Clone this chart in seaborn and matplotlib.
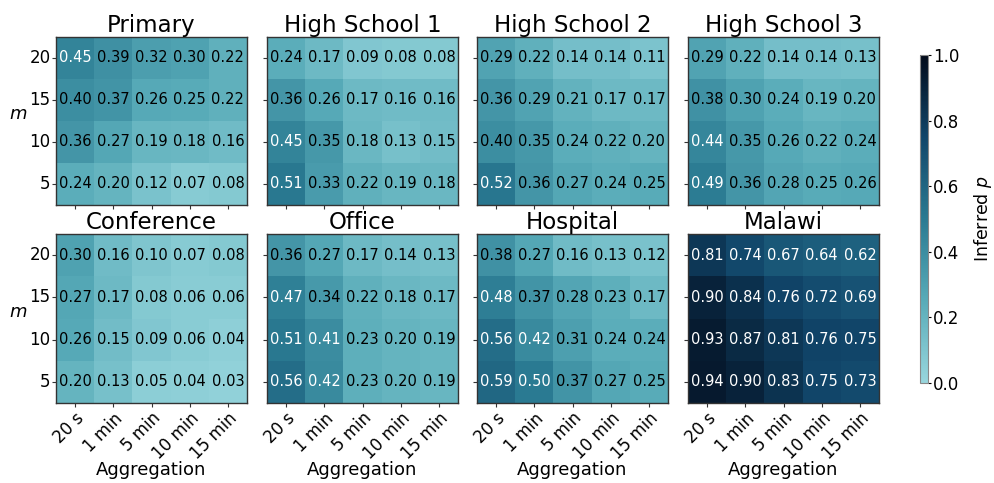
import numpy as np
import pandas as pd
import matplotlib
matplotlib.use("Agg")
import matplotlib.pyplot as plt
from matplotlib.colors import LinearSegmentedColormap
import seaborn as sns

aggregation = ["20 s", "1 min", "5 min", "10 min", "15 min"]
m_values = [20, 15, 10, 5]

primary = [[0.45, 0.39, 0.32, 0.30, 0.22],
           [0.40, 0.37, 0.26, 0.25, 0.22],
           [0.36, 0.27, 0.19, 0.18, 0.16],
           [0.24, 0.20, 0.12, 0.07, 0.08]]
high_school_1 = [[0.24, 0.17, 0.09, 0.08, 0.08],
                 [0.36, 0.26, 0.17, 0.16, 0.16],
                 [0.45, 0.35, 0.18, 0.13, 0.15],
                 [0.51, 0.33, 0.22, 0.19, 0.18]]
high_school_2 = [[0.29, 0.22, 0.14, 0.14, 0.11],
                 [0.36, 0.29, 0.21, 0.17, 0.17],
                 [0.40, 0.35, 0.24, 0.22, 0.20],
                 [0.52, 0.36, 0.27, 0.24, 0.25]]
high_school_3 = [[0.29, 0.22, 0.14, 0.14, 0.13],
                 [0.38, 0.30, 0.24, 0.19, 0.20],
                 [0.44, 0.35, 0.26, 0.22, 0.24],
                 [0.49, 0.36, 0.28, 0.25, 0.26]]
conference = [[0.30, 0.16, 0.10, 0.07, 0.08],
              [0.27, 0.17, 0.08, 0.06, 0.06],
              [0.26, 0.15, 0.09, 0.06, 0.04],
              [0.20, 0.13, 0.05, 0.04, 0.03]]
office = [[0.36, 0.27, 0.17, 0.14, 0.13],
          [0.47, 0.34, 0.22, 0.18, 0.17],
          [0.51, 0.41, 0.23, 0.20, 0.19],
          [0.56, 0.42, 0.23, 0.20, 0.19]]
hospital = [[0.38, 0.27, 0.16, 0.13, 0.12],
            [0.48, 0.37, 0.28, 0.23, 0.17],
            [0.56, 0.42, 0.31, 0.24, 0.24],
            [0.59, 0.50, 0.37, 0.27, 0.25]]
malawi = [[0.81, 0.74, 0.67, 0.64, 0.62],
          [0.90, 0.84, 0.76, 0.72, 0.69],
          [0.93, 0.87, 0.81, 0.76, 0.75],
          [0.94, 0.90, 0.83, 0.75, 0.73]]

titles = ["Primary", "High School 1", "High School 2", "High School 3",
          "Conference", "Office", "Hospital", "Malawi"]
datasets = [primary, high_school_1, high_school_2, high_school_3,
            conference, office, hospital, malawi]

cmap = LinearSegmentedColormap.from_list(
    "teal_navy",
    [(0.0, "#98d6dd"), (0.25, "#58abb8"), (0.5, "#2a7a92"),
     (0.75, "#11466a"), (1.0, "#020b1b")])

W, H = 994, 483
fig = plt.figure(figsize=(W / 100, H / 100), dpi=100)

lefts = [56, 267, 477, 688]
rows = [(37, 205), (234, 403)]
ax_w = 191

cbar_ax = fig.add_axes([920 / W, 1 - 383 / H, 8 / W, 328 / H])
cb = None

for i, (title, data) in enumerate(zip(titles, datasets)):
    r, c = divmod(i, 4)
    top, bot = rows[r]
    ax_h = bot - top
    ax = fig.add_axes([lefts[c] / W, 1 - bot / H, ax_w / W, ax_h / H])
    df = pd.DataFrame(data, index=m_values, columns=aggregation)
    if i == 0:
        sns.heatmap(df, ax=ax, cmap=cmap, vmin=0, vmax=1, annot=True,
                    fmt=".2f", annot_kws={"fontsize": 10.5},
                    cbar=True, cbar_ax=cbar_ax)
        cb = ax.collections[0].colorbar
    else:
        sns.heatmap(df, ax=ax, cmap=cmap, vmin=0, vmax=1, annot=True,
                    fmt=".2f", annot_kws={"fontsize": 10.5}, cbar=False)
    for t in ax.texts:
        t.set_color("white" if float(t.get_text()) > 0.405 else "black")
    for s in ax.spines.values():
        s.set_visible(True)
        s.set_color("#333333")
        s.set_linewidth(1.0)
    ax.set_title(title, fontsize=16.5, pad=3)
    ax.tick_params(length=3, width=0.8, color="#333333", labelsize=12)
    ax.tick_params(axis="y", pad=1)
    ax.tick_params(axis="x", pad=1.5)
    if c == 0:
        ax.set_yticklabels([str(v) for v in m_values], rotation=0)
        ax.set_ylabel("$m$", fontsize=13, rotation=0, va="center")
        ax.yaxis.set_label_coords(-0.2, 0.54)
    else:
        ax.set_yticklabels([])
        ax.set_ylabel("")
    if r == 1:
        ax.set_xticklabels(aggregation, rotation=45, ha="right",
                           rotation_mode="anchor", fontsize=12)
        ax.set_xlabel("Aggregation", fontsize=13, va="center")
        ax.xaxis.set_label_coords(0.5, -67 / ax_h)
    else:
        ax.set_xticklabels([])
        ax.set_xlabel("")

cb.set_ticks([0, 0.2, 0.4, 0.6, 0.8, 1.0])
cb.ax.tick_params(labelsize=12, length=2, width=0.8, pad=1.5)
cb.outline.set_visible(True)
cb.outline.set_linewidth(0.8)
cb.outline.set_edgecolor("#888888")
cb.set_label("Inferred $p$", fontsize=12.5)
cb.ax.yaxis.set_label_coords((972 - 920) / 8, 0.5)

fig.savefig("out.png", dpi=100)
